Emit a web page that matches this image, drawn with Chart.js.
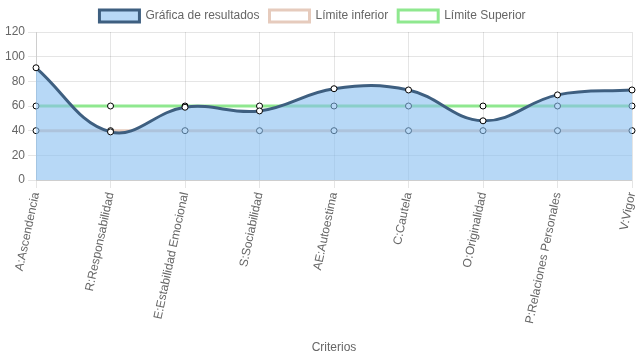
<!DOCTYPE html>
<html lang="es">
<head>
    <meta charset="UTF-8">
    <title>Criterios</title>
    <script src="https://cdn.jsdelivr.net/npm/chart.js"></script>
    <style>
        body { margin: 0; background: #fff; }
        #wrap { width: 637px; height: 359px; }
    </style>
</head>
<body>
    <div id="wrap"><canvas id="grafica"></canvas></div>
    <script>
        const criterios = ['A:Ascendencia', 'R:Responsabilidad', 'E:Estabilidad Emocional', 'S:Sociabilidad',
            'AE:Autoestima', 'C:Cautela', 'O:Originalidad', 'P:Relaciones Personales', 'V:Vigor'];
        const resultados = [91, 39, 59, 56, 74, 73, 48, 69, 73];
        const limiteInferior = [40, 40, 40, 40, 40, 40, 40, 40, 40];
        const limiteSuperior = [60, 60, 60, 60, 60, 60, 60, 60, 60];

        Chart.defaults.font.family = 'Arial, "Liberation Sans", sans-serif';
        Chart.defaults.font.size = 12;
        Chart.defaults.color = '#666';

        // la leyenda original queda un poco a la izquierda del centro
        const moverLeyenda = {
            id: 'moverLeyenda',
            afterLayout(chart) {
                chart.legend.left -= 7;
                chart.legend.right -= 7;
            }
        };

        new Chart(document.getElementById('grafica'), {
            type: 'line',
            data: {
                labels: criterios,
                datasets: [{
                    label: 'Gráfica de resultados',
                    data: resultados,
                    fill: 'origin',
                    backgroundColor: 'rgba(135,190,240,0.6)',
                    borderColor: '#3e5f80',
                    borderWidth: 3,
                    tension: 0.4,
                    pointRadius: 3,
                    pointBackgroundColor: '#fff',
                    pointBorderColor: '#000',
                    pointBorderWidth: 1
                }, {
                    label: 'Límite inferior',
                    data: limiteInferior,
                    fill: false,
                    backgroundColor: '#fff',
                    borderColor: '#e6cbbd',
                    borderWidth: 3,
                    pointRadius: 3,
                    pointBackgroundColor: '#fff',
                    pointBorderColor: '#000',
                    pointBorderWidth: 1
                }, {
                    label: 'Límite Superior',
                    data: limiteSuperior,
                    fill: false,
                    backgroundColor: '#fff',
                    borderColor: '#8fe88f',
                    borderWidth: 3,
                    pointRadius: 3,
                    pointBackgroundColor: '#fff',
                    pointBorderColor: '#000',
                    pointBorderWidth: 1
                }]
            },
            options: {
                responsive: true,
                maintainAspectRatio: false,
                animation: false,
                layout: { padding: { left: 2 } },
                plugins: {
                    legend: {
                        position: 'top'
                    },
                    tooltip: { enabled: false }
                },
                scales: {
                    y: {
                        min: 0,
                        max: 120,
                        ticks: { stepSize: 20 }
                    },
                    x: {
                        title: { display: true, text: 'Criterios' },
                        ticks: { minRotation: 78, maxRotation: 78 },
                        afterFit(scale) {
                            scale.height = 179;
                            scale.paddingRight = 4;
                        }
                    }
                }
            },
            plugins: [moverLeyenda]
        });
    </script>
</body>
</html>
